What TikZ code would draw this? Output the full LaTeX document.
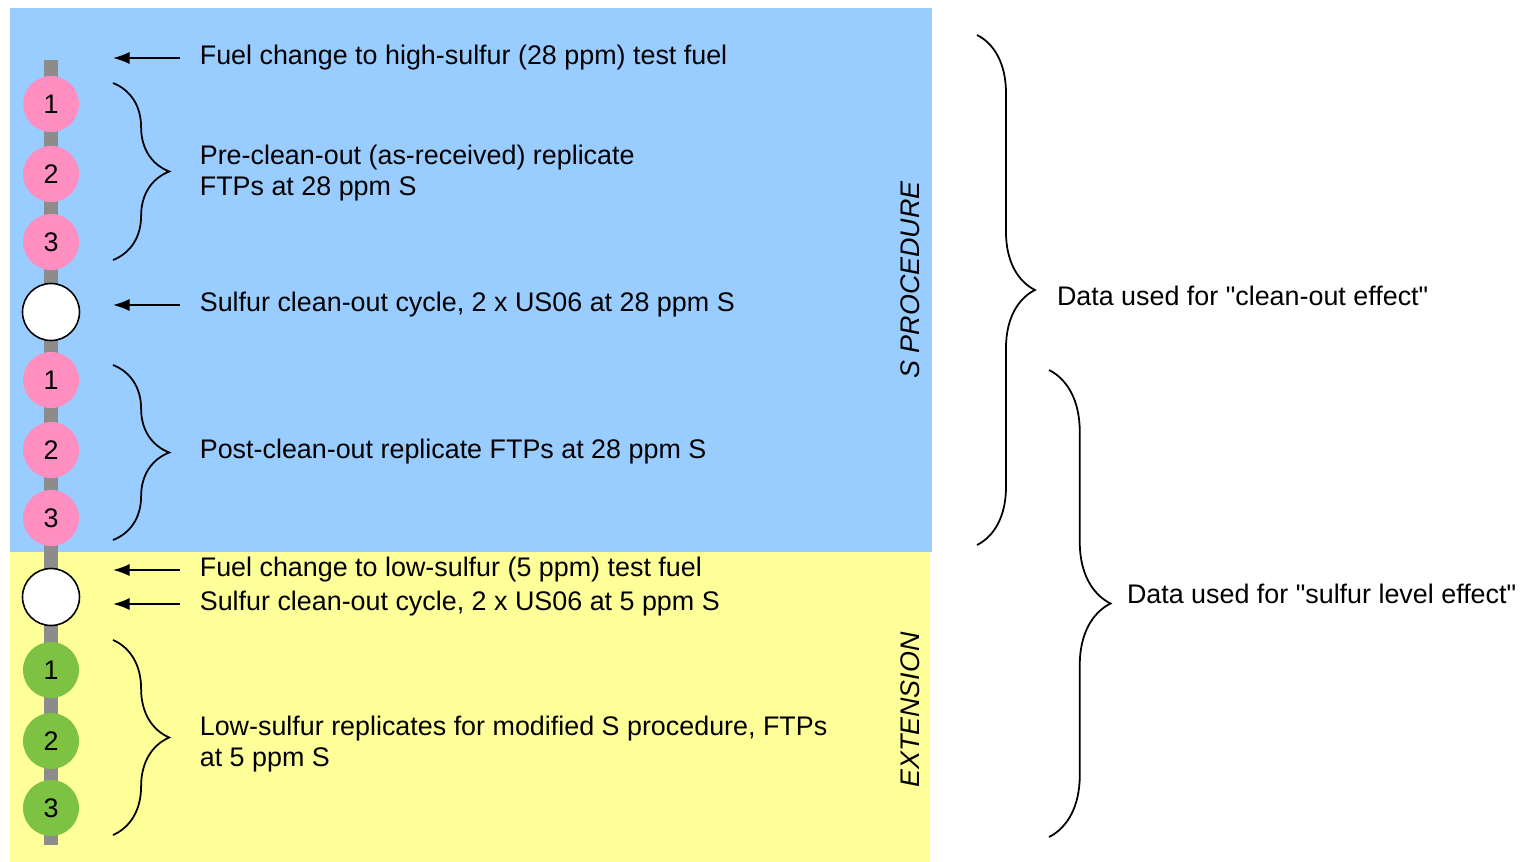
\documentclass[tikz,border=0pt]{standalone}
\usepackage{fontspec}
\setmainfont{Liberation Sans}
\newfontfamily\plainsans{Liberation Sans}
\usetikzlibrary{positioning,arrows.meta,decorations.pathreplacing}
\definecolor{procblue}{HTML}{99CCFF}
\definecolor{extyellow}{HTML}{FFFF99}
\definecolor{runpink}{HTML}{FF8FC0}
\definecolor{rungreen}{HTML}{7DC242}
\definecolor{bargray}{HTML}{8C8C8C}
\tikzset{
  txt/.style={anchor=west,inner sep=0pt,outer xsep=11.3pt,font=\fontsize{15.3}{17.6}\selectfont,align=left},
  run/.style={circle,inner sep=0pt,minimum size=1.12cm,font=\fontsize{15.3}{17.6}\selectfont},
  pinkrun/.style={run,fill=runpink},
  greenrun/.style={run,fill=rungreen},
  cleanrun/.style={run,minimum size=1.14cm,fill=white,draw=black,line width=0.9pt},
  flow/.style={-{Latex[length=9.5pt,width=7pt]},line width=1.1pt},
  brc/.style={decorate,decoration={brace,amplitude=#1},line width=1pt},
  vlabel/.style={rotate=90,font=\fontsize{15.3}{17.6}\selectfont\itshape}
}
\begin{document}
\begin{tikzpicture}[x=0.02cm,y=-0.02cm]
  \useasboundingbox (0,0) rectangle (1528,862);
  \fill[procblue] (10,8) rectangle (932,552);
  \fill[extyellow] (10,552) rectangle (930,862);
  \fill[bargray] (44,60) rectangle (58,845);

  \node[pinkrun] (pre1) at (51,104) {1};
  \node[pinkrun] (pre2) at (51,174) {2};
  \node[pinkrun] (pre3) at (51,242) {3};
  \node[cleanrun] (clean1) at (51,312) {};
  \node[pinkrun] (post1) at (51,380) {1};
  \node[pinkrun] (post2) at (51,450) {2};
  \node[pinkrun] (post3) at (51,518) {3};
  \node[cleanrun] (clean2) at (51,597) {};
  \node[greenrun] (low1) at (51,670) {1};
  \node[greenrun] (low2) at (51,741) {2};
  \node[greenrun] (low3) at (51,808) {3};

  \coordinate (a1) at (113,58);
  \coordinate (a2) at (113,305);
  \coordinate (a3) at (113,570);
  \coordinate (a4) at (113,604);
  \node[txt] (fuelhi) at (180,58) {Fuel change to high-sulfur (28 ppm) test fuel};
  \node[txt] (cyclehi) at (180,305) {Sulfur clean-out cycle, 2 x US06 at 28 ppm S};
  \node[txt] (fuello) at (180,570) {Fuel change to low-sulfur (5 ppm) test fuel};
  \node[txt] (cyclelo) at (180,604) {Sulfur clean-out cycle, 2 x US06 at 5 ppm S};
  \draw[flow] (fuelhi.west) -- (a1);
  \draw[flow] (cyclehi.west) -- (a2);
  \draw[flow] (fuello.west) -- (a3);
  \draw[flow] (cyclelo.west) -- (a4);

  \coordinate (b1t) at (113,83);
  \coordinate (b1b) at (113,260);
  \coordinate (b2t) at (113,365);
  \coordinate (b2b) at (113,540);
  \coordinate (b3t) at (113,640);
  \coordinate (b3b) at (113,835);
  \draw[brc=32pt] (b1t) -- (b1b);
  \draw[brc=32pt] (b2t) -- (b2b);
  \draw[brc=32pt] (b3t) -- (b3b);
  \node[txt] (prerep) at (180,173) {Pre-clean-out (as-received) replicate\\FTPs at 28 ppm S};
  \node[txt] (postrep) at (180,452) {Post-clean-out replicate FTPs at 28 ppm S};
  \node[txt] (lowrep) at (180,744) {Low-sulfur replicates for modified S procedure, FTPs\\at 5 ppm S};

  \node[vlabel] (sproc) at (910,280) {S PROCEDURE};
  \node[vlabel] (ext) at (910,710) {EXTENSION};

  \coordinate (c1t) at (977,35);
  \coordinate (c1b) at (977,545);
  \coordinate (c2t) at (1049,370);
  \coordinate (c2b) at (1049,837);
  \draw[brc=33pt] (c1t) -- (c1b);
  \draw[brc=35pt] (c2t) -- (c2b);
  \node[txt,outer xsep=0pt,font=\fontsize{15.3}{17.6}\plainsans] (cleaneff) at (1057,296) {Data used for "clean-out effect"};
  \node[txt,outer xsep=0pt,font=\fontsize{15.3}{17.6}\plainsans] (sulfeff) at (1127,594) {Data used for "sulfur level effect"};
\end{tikzpicture}
\end{document}
